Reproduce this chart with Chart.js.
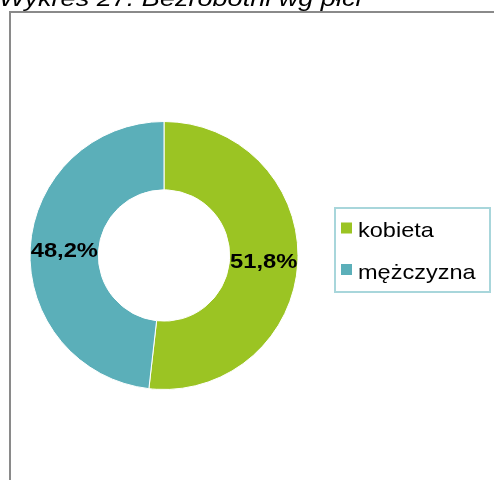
<!DOCTYPE html>
<html lang="pl">
<head>
    <meta charset="UTF-8">
    <title>Wykres 27. Bezrobotni wg płci</title>
    <script src="https://cdn.jsdelivr.net/npm/chart.js"></script>
    <style>
        html, body { margin: 0; padding: 0; background: #ffffff; }
        #wrap { width: 494px; height: 480px; position: relative; }
    </style>
</head>
<body>
    <div id="wrap">
        <canvas id="genderChart" width="494" height="480"></canvas>
    </div>

    <script>
        // data
        const titleText = 'Wykres 27. Bezrobotni wg płci';
        const categories = ['kobieta', 'mężczyzna'];
        const shares = [51.8, 48.2];
        const sliceColors = ['#9BC423', '#5BAFB9'];

        const FONT = "'Liberation Sans', Arial, sans-serif";

        // draws text stretched horizontally, like the original export
        function stretchedText(ctx, text, x, y, font, scaleX, align) {
            ctx.save();
            ctx.font = font;
            ctx.textAlign = 'left';
            const w = ctx.measureText(text).width * scaleX;
            let left = x;
            if (align === 'center') left = x - w / 2;
            ctx.translate(left, y);
            ctx.scale(scaleX, 1);
            ctx.fillText(text, 0, 0);
            ctx.restore();
        }

        const decorPlugin = {
            id: 'decor',
            beforeDraw(chart) {
                const ctx = chart.ctx;
                ctx.save();
                // title, cut off at the top
                ctx.fillStyle = '#000000';
                ctx.textBaseline = 'alphabetic';
                stretchedText(ctx, titleText, -1, 6, 'italic 22px ' + FONT, 1.23, 'left');
                // frame of the chart area
                ctx.strokeStyle = '#8a8a8a';
                ctx.lineWidth = 2;
                ctx.strokeRect(10, 12, 600, 600);
                ctx.restore();
            },
            afterDraw(chart) {
                const ctx = chart.ctx;
                const meta = chart.getDatasetMeta(0);
                ctx.save();
                // percent labels at slice centroids
                ctx.fillStyle = '#000000';
                ctx.textBaseline = 'middle';
                meta.data.forEach((arc, i) => {
                    const p = arc.tooltipPosition();
                    const txt = shares[i].toFixed(1).replace('.', ',') + '%';
                    stretchedText(ctx, txt, p.x, p.y + 1.5, 'bold 21px ' + FONT, 1.13, 'center');
                });

                // legend box
                ctx.strokeStyle = '#a8d6db';
                ctx.lineWidth = 2;
                ctx.strokeRect(335, 208, 155, 84);
                ctx.textBaseline = 'alphabetic';
                categories.forEach((name, i) => {
                    const top = 222.5 + i * 41.5;
                    ctx.fillStyle = sliceColors[i];
                    ctx.fillRect(341, top, 11, 11);
                    ctx.fillStyle = '#000000';
                    stretchedText(ctx, name, 358, top + 14.5, '21px ' + FONT, 1.12, 'left');
                });
                ctx.restore();
            }
        };

        new Chart(document.getElementById('genderChart'), {
            type: 'doughnut',
            data: {
                labels: categories,
                datasets: [{
                    data: shares,
                    backgroundColor: sliceColors,
                    borderColor: '#ffffff',
                    borderWidth: 1
                }]
            },
            options: {
                responsive: false,
                animation: false,
                cutout: '49%',
                layout: { padding: { left: 29.5, right: 195.5, top: 121, bottom: 90 } },
                plugins: {
                    legend: { display: false },
                    tooltip: { enabled: false }
                }
            },
            plugins: [decorPlugin]
        });
    </script>
</body>
</html>
